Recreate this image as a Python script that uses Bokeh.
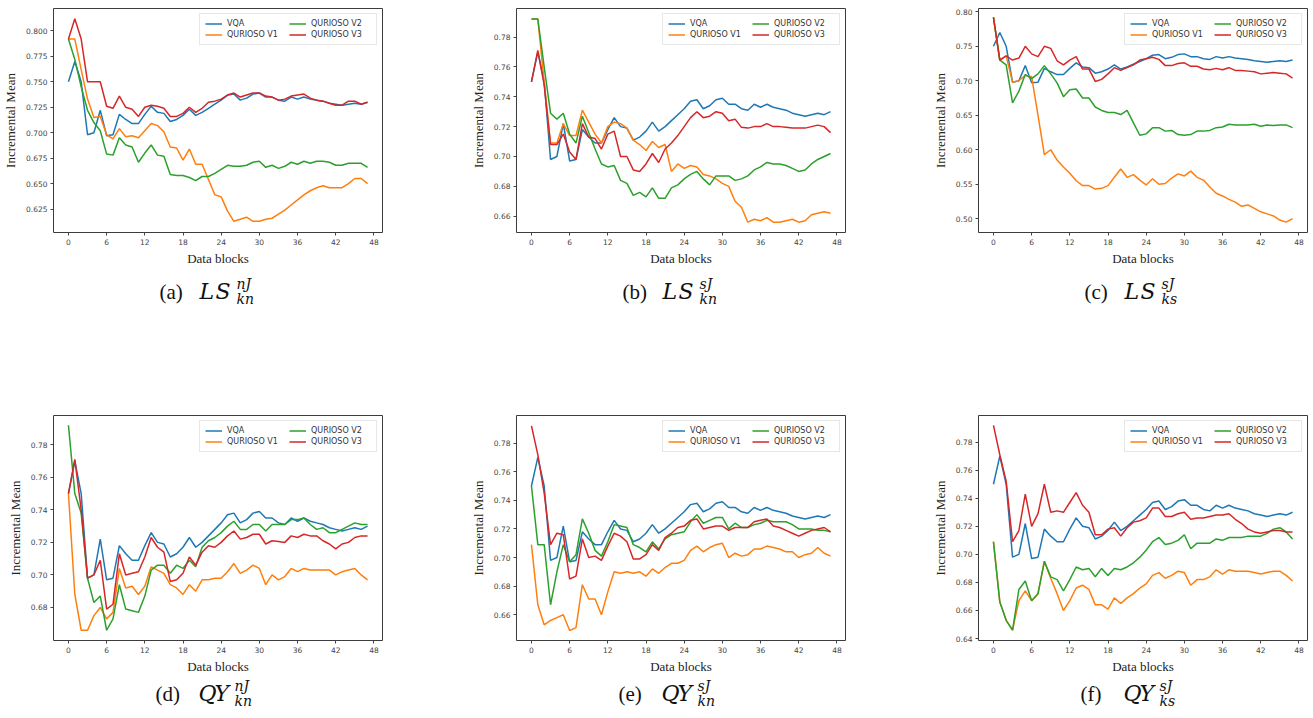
from bokeh.plotting import figure
from bokeh.layouts import row, column
from bokeh.models import Range1d, FixedTicker, PrintfTickFormatter, Legend, LegendItem
from bokeh.core.properties import value
from bokeh.embed import file_html
from bokeh.resources import INLINE

# ---------------- data ----------------
blocks = list(range(48))
series_names = ["VQA", "QURIOSO V1", "QURIOSO V2", "QURIOSO V3"]
x_ticks = [0, 6, 12, 18, 24, 30, 36, 42, 48]

vqa = [0.750, 0.770, 0.750, 0.698, 0.700, 0.722, 0.697, 0.698, 0.718, 0.713,
       0.709, 0.709, 0.718, 0.726, 0.720, 0.719, 0.711, 0.713, 0.717, 0.723,
       0.717, 0.720, 0.724, 0.728, 0.732, 0.737, 0.738, 0.732, 0.734, 0.738,
       0.739, 0.735, 0.735, 0.732, 0.731, 0.735, 0.733, 0.735, 0.733, 0.732,
       0.731, 0.729, 0.728, 0.727, 0.728, 0.729, 0.728, 0.730]

a_v1 = [0.792, 0.792, 0.762, 0.733, 0.715, 0.716, 0.698, 0.694, 0.704, 0.696,
        0.697, 0.695, 0.702, 0.709, 0.707, 0.701, 0.686, 0.685, 0.673, 0.684,
        0.669, 0.669, 0.654, 0.639, 0.637, 0.623, 0.613, 0.615, 0.617, 0.613,
        0.613, 0.615, 0.616, 0.620, 0.624, 0.629, 0.634, 0.639, 0.643, 0.646,
        0.648, 0.646, 0.646, 0.646, 0.650, 0.655, 0.655, 0.650]
a_v2 = [0.792, 0.772, 0.745, 0.722, 0.710, 0.702, 0.679, 0.678, 0.695, 0.688,
        0.686, 0.671, 0.680, 0.688, 0.678, 0.677, 0.659, 0.658, 0.658, 0.656,
        0.653, 0.657, 0.657, 0.660, 0.664, 0.668, 0.667, 0.667, 0.668, 0.671,
        0.672, 0.666, 0.668, 0.665, 0.667, 0.671, 0.669, 0.672, 0.670, 0.672,
        0.672, 0.671, 0.668, 0.668, 0.670, 0.670, 0.670, 0.666]
a_v3 = [0.792, 0.812, 0.792, 0.750, 0.750, 0.750, 0.726, 0.724, 0.736, 0.725,
        0.723, 0.716, 0.725, 0.727, 0.726, 0.724, 0.716, 0.716, 0.719, 0.725,
        0.720, 0.724, 0.730, 0.731, 0.733, 0.737, 0.739, 0.735, 0.737, 0.739,
        0.739, 0.736, 0.735, 0.732, 0.733, 0.736, 0.737, 0.738, 0.734, 0.732,
        0.731, 0.729, 0.727, 0.727, 0.731, 0.731, 0.728, 0.730]

b_v1 = [0.792, 0.792, 0.750, 0.709, 0.709, 0.722, 0.714, 0.714, 0.731, 0.723,
        0.715, 0.709, 0.720, 0.723, 0.722, 0.719, 0.711, 0.708, 0.704, 0.710,
        0.706, 0.708, 0.690, 0.695, 0.692, 0.694, 0.693, 0.688, 0.687, 0.685,
        0.682, 0.680, 0.670, 0.666, 0.656, 0.658, 0.657, 0.659, 0.656, 0.656,
        0.657, 0.658, 0.656, 0.657, 0.661, 0.662, 0.663, 0.662]
b_v2 = [0.792, 0.792, 0.760, 0.729, 0.725, 0.729, 0.715, 0.709, 0.727, 0.716,
        0.705, 0.695, 0.693, 0.694, 0.684, 0.682, 0.674, 0.676, 0.673, 0.679,
        0.672, 0.672, 0.679, 0.681, 0.685, 0.688, 0.690, 0.685, 0.681, 0.687,
        0.687, 0.687, 0.684, 0.685, 0.687, 0.691, 0.693, 0.696, 0.695, 0.695,
        0.694, 0.692, 0.690, 0.691, 0.695, 0.698, 0.700, 0.702]
b_v3 = [0.750, 0.771, 0.748, 0.708, 0.708, 0.715, 0.703, 0.698, 0.722, 0.713,
        0.712, 0.705, 0.715, 0.717, 0.700, 0.700, 0.691, 0.690, 0.695, 0.702,
        0.696, 0.705, 0.709, 0.714, 0.720, 0.726, 0.730, 0.726, 0.727, 0.730,
        0.729, 0.724, 0.725, 0.7195, 0.719, 0.720, 0.720, 0.722, 0.720, 0.720,
        0.7195, 0.719, 0.719, 0.719, 0.720, 0.721, 0.720, 0.716]

c_v1 = [0.792, 0.730, 0.736, 0.698, 0.700, 0.708, 0.706, 0.650, 0.593, 0.600,
        0.585, 0.575, 0.566, 0.555, 0.548, 0.548, 0.543, 0.544, 0.548, 0.560,
        0.572, 0.560, 0.564, 0.556, 0.549, 0.558, 0.550, 0.551, 0.559, 0.565,
        0.562, 0.569, 0.560, 0.556, 0.546, 0.537, 0.533, 0.528, 0.524, 0.518,
        0.520, 0.515, 0.510, 0.507, 0.504, 0.498, 0.495, 0.500]
c_v2 = [0.792, 0.730, 0.723, 0.668, 0.685, 0.709, 0.703, 0.710, 0.722, 0.710,
        0.697, 0.677, 0.687, 0.688, 0.675, 0.675, 0.662, 0.657, 0.654, 0.654,
        0.651, 0.657, 0.639, 0.621, 0.623, 0.632, 0.632, 0.627, 0.628, 0.622,
        0.621, 0.622, 0.627, 0.627, 0.628, 0.632, 0.633, 0.637, 0.636, 0.636,
        0.636, 0.637, 0.634, 0.636, 0.635, 0.636, 0.636, 0.632]
c_v3 = [0.792, 0.730, 0.736, 0.730, 0.733, 0.750, 0.739, 0.735, 0.750, 0.747,
        0.729, 0.723, 0.730, 0.735, 0.717, 0.717, 0.699, 0.702, 0.710, 0.719,
        0.715, 0.719, 0.723, 0.730, 0.732, 0.734, 0.731, 0.722, 0.722, 0.725,
        0.726, 0.721, 0.721, 0.717, 0.716, 0.718, 0.716, 0.719, 0.715, 0.715,
        0.714, 0.713, 0.710, 0.711, 0.712, 0.711, 0.710, 0.704]

d_v1 = [0.750, 0.688, 0.666, 0.666, 0.675, 0.680, 0.673, 0.677, 0.704, 0.692,
        0.693, 0.688, 0.693, 0.705, 0.703, 0.701, 0.694, 0.692, 0.688, 0.694,
        0.690, 0.697, 0.697, 0.698, 0.698, 0.702, 0.707, 0.701, 0.703, 0.706,
        0.704, 0.694, 0.700, 0.697, 0.699, 0.704, 0.702, 0.704, 0.703, 0.703,
        0.703, 0.703, 0.700, 0.702, 0.703, 0.704, 0.700, 0.697]
d_v2 = [0.792, 0.750, 0.738, 0.698, 0.683, 0.687, 0.666, 0.673, 0.694, 0.679,
        0.678, 0.677, 0.687, 0.703, 0.706, 0.706, 0.701, 0.706, 0.704, 0.709,
        0.705, 0.717, 0.721, 0.723, 0.726, 0.730, 0.733, 0.728, 0.728, 0.731,
        0.731, 0.727, 0.731, 0.731, 0.731, 0.734, 0.734, 0.735, 0.731, 0.728,
        0.729, 0.726, 0.726, 0.728, 0.730, 0.732, 0.731, 0.731]
d_v3 = [0.750, 0.771, 0.740, 0.698, 0.700, 0.709, 0.679, 0.682, 0.713, 0.700,
        0.701, 0.702, 0.711, 0.723, 0.717, 0.714, 0.696, 0.697, 0.701, 0.711,
        0.706, 0.714, 0.718, 0.717, 0.720, 0.724, 0.727, 0.722, 0.723, 0.725,
        0.725, 0.719, 0.721, 0.7205, 0.720, 0.724, 0.723, 0.725, 0.724, 0.724,
        0.721, 0.719, 0.716, 0.719, 0.720, 0.723, 0.724, 0.724]

e_v1 = [0.709, 0.667, 0.653, 0.656, 0.658, 0.660, 0.649, 0.651, 0.681, 0.671,
        0.671, 0.660, 0.676, 0.690, 0.689, 0.690, 0.689, 0.690, 0.687, 0.692,
        0.689, 0.693, 0.696, 0.696, 0.698, 0.705, 0.708, 0.704, 0.707, 0.709,
        0.710, 0.700, 0.703, 0.701, 0.702, 0.706, 0.706, 0.708, 0.707, 0.706,
        0.704, 0.704, 0.700, 0.702, 0.703, 0.707, 0.703, 0.701]
e_v2 = [0.750, 0.709, 0.709, 0.667, 0.690, 0.709, 0.697, 0.702, 0.727, 0.717,
        0.705, 0.701, 0.711, 0.723, 0.722, 0.721, 0.709, 0.707, 0.704, 0.711,
        0.706, 0.713, 0.716, 0.717, 0.718, 0.725, 0.730, 0.724, 0.726, 0.728,
        0.728, 0.720, 0.724, 0.721, 0.721, 0.723, 0.724, 0.726, 0.725, 0.725,
        0.725, 0.723, 0.720, 0.720, 0.720, 0.719, 0.719, 0.718]
e_v3 = [0.792, 0.772, 0.745, 0.709, 0.717, 0.716, 0.685, 0.687, 0.713, 0.700,
        0.701, 0.698, 0.708, 0.717, 0.715, 0.711, 0.699, 0.699, 0.702, 0.709,
        0.705, 0.714, 0.717, 0.721, 0.722, 0.726, 0.727, 0.720, 0.721, 0.722,
        0.722, 0.719, 0.721, 0.721, 0.721, 0.725, 0.726, 0.727, 0.722, 0.721,
        0.719, 0.717, 0.715, 0.717, 0.719, 0.720, 0.721, 0.718]

f_v1 = [0.709, 0.666, 0.653, 0.646, 0.667, 0.674, 0.667, 0.672, 0.695, 0.683,
        0.672, 0.660, 0.667, 0.676, 0.678, 0.675, 0.664, 0.664, 0.661, 0.669,
        0.665, 0.669, 0.672, 0.676, 0.679, 0.685, 0.687, 0.683, 0.685, 0.688,
        0.687, 0.678, 0.682, 0.682, 0.684, 0.689, 0.686, 0.689, 0.688, 0.688,
        0.688, 0.687, 0.686, 0.687, 0.688, 0.688, 0.685, 0.681]
f_v2 = [0.709, 0.666, 0.653, 0.646, 0.675, 0.681, 0.667, 0.672, 0.695, 0.684,
        0.682, 0.674, 0.682, 0.691, 0.689, 0.690, 0.684, 0.690, 0.685, 0.690,
        0.689, 0.691, 0.694, 0.698, 0.703, 0.709, 0.712, 0.707, 0.708, 0.710,
        0.714, 0.704, 0.708, 0.708, 0.708, 0.711, 0.710, 0.712, 0.712, 0.712,
        0.713, 0.713, 0.713, 0.715, 0.718, 0.719, 0.716, 0.711]
f_v3 = [0.792, 0.771, 0.752, 0.709, 0.717, 0.743, 0.720, 0.729, 0.750, 0.730,
        0.731, 0.730, 0.737, 0.744, 0.735, 0.730, 0.714, 0.714, 0.718, 0.719,
        0.713, 0.719, 0.723, 0.724, 0.726, 0.733, 0.733, 0.727, 0.727, 0.729,
        0.730, 0.725, 0.726, 0.726, 0.727, 0.728, 0.728, 0.729, 0.725, 0.722,
        0.718, 0.716, 0.715, 0.716, 0.717, 0.717, 0.716, 0.716]

# y-axis ticks of each panel
a_yticks = [0.625, 0.650, 0.675, 0.700, 0.725, 0.750, 0.775, 0.800]
b_yticks = [0.66, 0.68, 0.70, 0.72, 0.74, 0.76, 0.78]
c_yticks = [0.50, 0.55, 0.60, 0.65, 0.70, 0.75, 0.80]
d_yticks = [0.68, 0.70, 0.72, 0.74, 0.76, 0.78]
e_yticks = [0.66, 0.68, 0.70, 0.72, 0.74, 0.76, 0.78]
f_yticks = [0.64, 0.66, 0.68, 0.70, 0.72, 0.74, 0.76, 0.78]

# captions: (label, main symbol, superscript, subscript)
cap_labels = ["(a)", "(b)", "(c)", "(d)", "(e)", "(f)"]
cap_main = ["LS", "LS", "LS", "QY", "QY", "QY"]
cap_sup = ["nJ", "sJ", "sJ", "nJ", "sJ", "sJ"]
cap_sub = ["kn", "kn", "ks", "kn", "kn", "ks"]

# ---------------- style / geometry ----------------
COLORS = ["#1f77b4", "#ff7f0e", "#2ca02c", "#d62728"]
TICK_C = "#444444"
TOTAL_W = 1313

panels = [
    dict(v=[vqa, a_v1, a_v2, a_v3], yr=(0.602, 0.822), yt=a_yticks, fmt="%.3f"),
    dict(v=[vqa, b_v1, b_v2, b_v3], yr=(0.6491, 0.7991), yt=b_yticks, fmt="%.2f"),
    dict(v=[vqa, c_v1, c_v2, c_v3], yr=(0.480, 0.8048), yt=c_yticks, fmt="%.2f"),
    dict(v=[vqa, d_v1, d_v2, d_v3], yr=(0.6597, 0.7980), yt=d_yticks, fmt="%.2f"),
    dict(v=[vqa, e_v1, e_v2, e_v3], yr=(0.6420, 0.7993), yt=e_yticks, fmt="%.2f"),
    dict(v=[vqa, f_v1, f_v2, f_v3], yr=(0.6386, 0.7990), yt=f_yticks, fmt="%.2f"),
]

# column geometry: (figure width, min_border_left, min_border_right)
COLS = [(437, 53, 55), (438, 79, 30), (438, 103, 6)]
FRAME_LEFTS = [53, 437 + 79, 875 + 103]
# row geometry (caption y values are text centres inside the caption strip)
ROWS = [
    dict(h=270, mt=8, mb=38, cap_h=70, px=106, mx=146, sx=183, my=21, supy=13, suby=28),
    dict(h=338, mt=75, mb=38, cap_h=40, px=102, mx=145, sx=181, my=15, supy=7, suby=22),
]


def make_panel(k):
    spec = panels[k]
    cw, ml, mr = COLS[k % 3]
    rg = ROWS[k // 3]
    p = figure(width=cw, height=rg["h"], output_backend="svg", toolbar_location=None,
               x_range=Range1d(-2.35, 49.35), y_range=Range1d(*spec["yr"]),
               min_border_left=ml, min_border_right=mr,
               min_border_top=rg["mt"], min_border_bottom=rg["mb"])
    p.xgrid.visible = False
    p.ygrid.visible = False
    p.outline_line_color = "#3c3c3c"
    p.outline_line_width = 1
    p.background_fill_color = "white"
    p.border_fill_color = "white"

    for ax in (p.xaxis[0], p.yaxis[0]):
        ax.axis_line_color = None
        ax.major_tick_line_color = TICK_C
        ax.major_tick_in = 0
        ax.major_tick_out = 3
        ax.minor_tick_line_color = None
        ax.major_label_text_font = "DejaVu Sans"
        ax.major_label_text_font_size = "7.5px"
        ax.major_label_text_color = TICK_C
        ax.major_label_standoff = 3
        ax.axis_label_text_font = "Liberation Serif"
        ax.axis_label_text_font_size = "13px"
        ax.axis_label_text_font_style = "normal"
        ax.axis_label_text_color = "#222222"
    p.xaxis.ticker = FixedTicker(ticks=x_ticks)
    p.xaxis.axis_label = "Data blocks"
    p.xaxis.axis_label_standoff = 3
    p.yaxis.ticker = FixedTicker(ticks=spec["yt"])
    p.yaxis.formatter = PrintfTickFormatter(format=spec["fmt"])
    p.yaxis.axis_label = "Incremental Mean"
    p.yaxis.axis_label_standoff = 5

    items = []
    for name, col, vals in zip(series_names, COLORS, spec["v"]):
        r = p.line(blocks, vals, line_color=col, line_width=1.5)
        items.append(LegendItem(label=name, renderers=[r]))
    leg = Legend(items=items, location="top_right", ncols=2,
                 label_text_font="DejaVu Sans", label_text_font_size="8px",
                 label_text_color="#333333", glyph_width=17, glyph_height=9,
                 label_standoff=5, label_height=9, label_width=60, spacing=2,
                 padding=5, margin=5, border_line_color="#d0d0d0",
                 border_line_width=1, background_fill_alpha=0.85)
    p.add_layout(leg)
    return p


def make_caption_strip(r):
    rg = ROWS[r]
    h = rg["cap_h"]
    c = figure(width=TOTAL_W, height=h, output_backend="svg", toolbar_location=None,
               x_range=Range1d(0, TOTAL_W), y_range=Range1d(h, 0),
               x_axis_location=None, y_axis_location=None,
               min_border=0, min_border_left=0, min_border_right=0,
               min_border_top=0, min_border_bottom=0)
    c.outline_line_color = None
    c.xgrid.visible = False
    c.ygrid.visible = False
    ks = [3 * r + j for j in range(3)]
    ink = "#111111"
    # "(a)" style labels
    c.text(x=[FRAME_LEFTS[j] + rg["px"] for j in range(3)], y=[rg["my"]] * 3,
           text=[cap_labels[k] for k in ks], text_font=value("Liberation Serif"),
           text_font_size=value("21px"), text_color=ink,
           text_baseline="middle", text_align="left")
    # main italic symbols, one letter at a time
    xs, ys, ts = [], [], []
    for j, k in enumerate(ks):
        for i, ch in enumerate(cap_main[k]):
            xs.append(FRAME_LEFTS[j] + rg["mx"] + 16 * i)
            ys.append(rg["my"])
            ts.append(ch)
    c.text(x=xs, y=ys, text=ts, text_font=value("DejaVu Serif"),
           text_font_style="italic", text_font_size=value("22px"),
           text_color=ink, text_baseline="middle", text_align="left")
    # superscripts and subscripts
    c.text(x=[FRAME_LEFTS[j] + rg["sx"] for j in range(3)], y=[rg["supy"]] * 3,
           text=[cap_sup[k] for k in ks], text_font=value("DejaVu Serif"),
           text_font_style="italic", text_font_size=value("14px"),
           text_color=ink, text_baseline="middle", text_align="left")
    c.text(x=[FRAME_LEFTS[j] + rg["sx"] for j in range(3)], y=[rg["suby"]] * 3,
           text=[cap_sub[k] for k in ks], text_font=value("DejaVu Serif"),
           text_font_style="italic", text_font_size=value("14px"),
           text_color=ink, text_baseline="middle", text_align="left")
    return c


figs = [make_panel(k) for k in range(6)]
layout = column(row(figs[0], figs[1], figs[2]), make_caption_strip(0),
                row(figs[3], figs[4], figs[5]), make_caption_strip(1))

open("out.html", "w").write(file_html(layout, INLINE))
